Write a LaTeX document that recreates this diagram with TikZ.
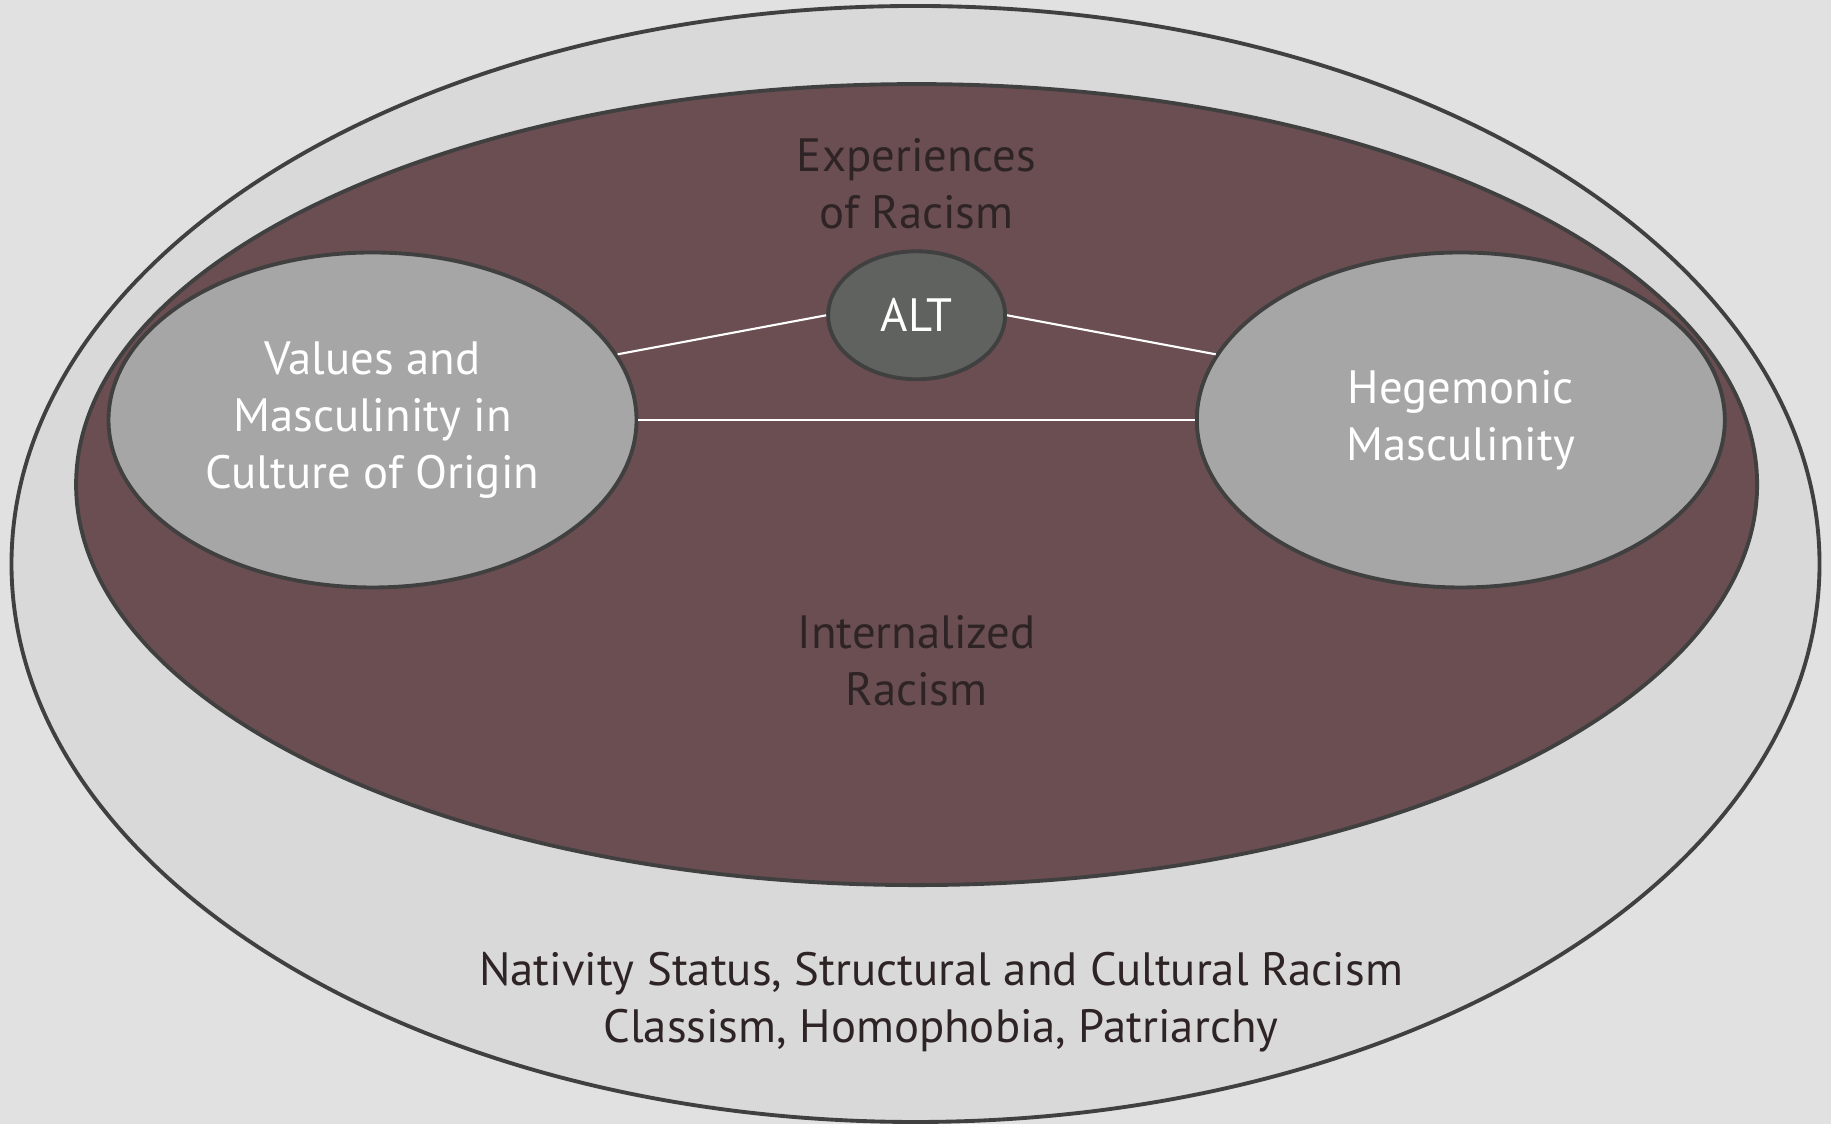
\documentclass[tikz,border=0pt]{standalone}
\usepackage{fontspec}
\setmainfont{PT Sans}
\usepackage{tikz}
\usetikzlibrary{shapes.geometric, positioning}
\definecolor{canvasgray}{HTML}{E1E1E1}
\definecolor{ringgray}{HTML}{D9D9D9}
\definecolor{racismmaroon}{HTML}{6B4E51}
\definecolor{cultgray}{HTML}{A6A6A6}
\definecolor{altgray}{HTML}{5F625F}
\definecolor{edgedark}{HTML}{404040}
\definecolor{textdark}{HTML}{2E2426}

\begin{document}
\begin{tikzpicture}[font=\fontsize{13.3}{16.3}\selectfont,
    layer/.style={ellipse, draw=edgedark, line width=1.1pt, inner sep=0pt},
    lens/.style={layer, fill=cultgray, text=white, align=center, minimum width=5.28cm, minimum height=3.35cm},
    darklabel/.style={text=textdark, align=center},
    link/.style={draw=white, line width=0.6pt}]

    \fill[canvasgray] (0,0) rectangle (18.31,11.24);
    \useasboundingbox (0,0) rectangle (18.31,11.24);

    \node (outer) [layer, fill=ringgray, minimum width=18.08cm, minimum height=11.16cm] at (9.155,5.60) {};
    \node (inner) [layer, fill=racismmaroon, minimum width=16.81cm, minimum height=8.01cm] at (9.166,6.394) {};

    \node (origin) [lens] at (3.725,7.04) {Values and\\Masculinity in\\Culture of Origin};
    \node (hegemonic) [lens] at (14.608,7.04) {Hegemonic\\Masculinity};
    \node (alt) [layer, fill=altgray, text=white, minimum width=1.77cm, minimum height=1.28cm] at (9.166,8.087) {ALT};

    \node (experiences) [darklabel] at (9.166,9.40) {Experiences\\of Racism};
    \node (internalized) [darklabel] at (9.166,4.63) {Internalized\\Racism};
    \node (context) [darklabel] at (9.41,1.22) {Nativity Status, Structural and Cultural Racism\\Classism, Homophobia, Patriarchy};

    % connectors between the lenses and ALT
    \draw[link] (origin.15) -- (alt.west);
    \draw[link] (alt.east) -- (hegemonic.165);
    \draw[link] (origin.east) -- (hegemonic.west);
\end{tikzpicture}
\end{document}
